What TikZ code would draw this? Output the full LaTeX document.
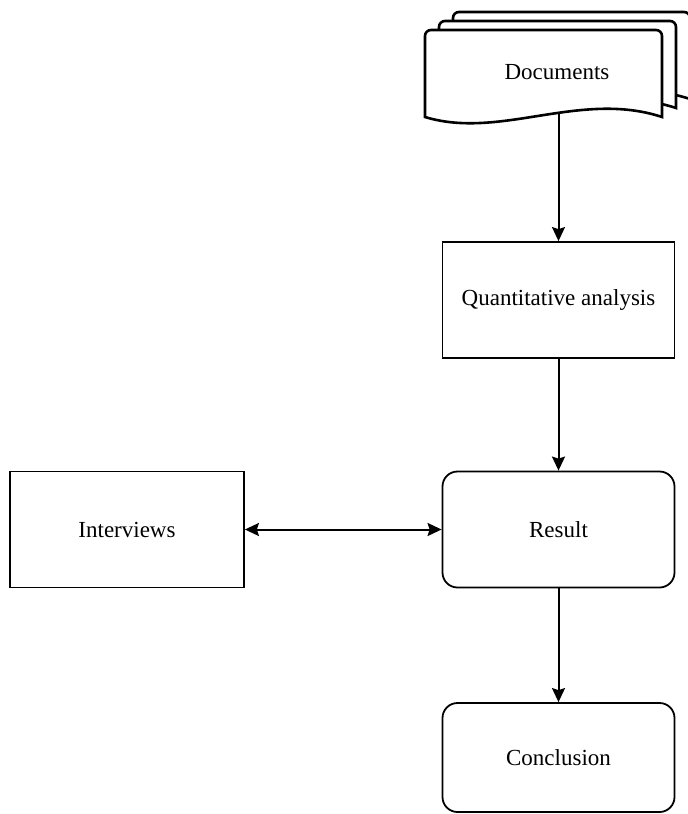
\documentclass[tikz,border=0pt]{standalone}
\usepackage{fontspec}
\setmainfont{Liberation Serif}
\usetikzlibrary{arrows.meta}
\usetikzlibrary{positioning}

\tikzset{
  box/.style={draw, line width=1.8pt, minimum width=232pt, minimum height=116pt, inner sep=0pt,
    font=\fontsize{23}{27}\selectfont},
  roundbox/.style={box, rounded corners=15pt},
  page/.style={draw, line width=2.6pt, fill=white, rounded corners=6pt},
  link/.style={line width=2pt, -{Stealth[length=14pt,width=13pt,inset=2pt]}},
  twolink/.style={line width=2pt, {Stealth[length=14pt,width=13pt,inset=2pt]}-{Stealth[length=14pt,width=13pt,inset=2pt]}}
}

\begin{document}
\begin{tikzpicture}[x=1pt,y=-1pt]
\useasboundingbox (0,0) rectangle (688,814);
\foreach \dx/\dy in {28/-18,14/-9,0/0}
  \draw[page] (425+\dx,117+\dy) -- (425+\dx,30+\dy) -- (662+\dx,30+\dy)
    [sharp corners] -- (662+\dx,117+\dy)
    .. controls (580+\dx,90+\dy) and (500+\dx,140+\dy) .. (425+\dx,117+\dy) -- cycle;
\node[inner sep=0pt, font=\fontsize{23}{27}\selectfont] (docs) at (557,72) {Documents};
\coordinate (docsout) at (558.5,113);
\node[box] (quant) at (558.5,300) {Quantitative analysis};
\node[roundbox] (result) at (558.5,529.5) {Result};
\node[box, minimum width=234pt] (interviews) at (127,529.5) {Interviews};
\node[roundbox, minimum height=109pt] (conclusion) at (558.5,757.5) {Conclusion};
\draw[link] (docsout) -- (quant.north);
\draw[link] (quant) -- (result);
\draw[twolink] (interviews) -- (result);
\draw[link] (result) -- (conclusion);
\end{tikzpicture}
\end{document}
